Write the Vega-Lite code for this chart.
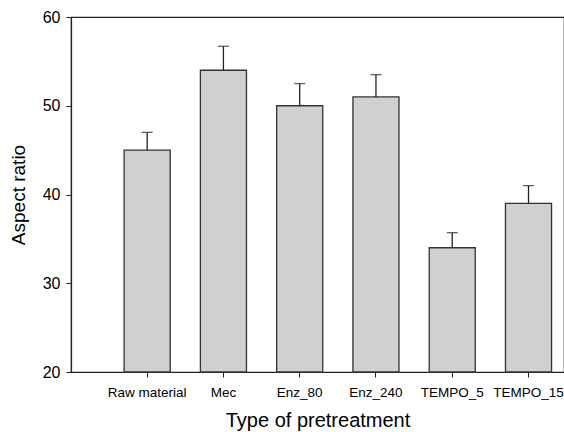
{
  "$schema": "https://vega.github.io/schema/vega-lite/v6.json",
  "width": 493,
  "height": 355,
  "autosize": {"type": "none"},
  "padding": {"left": 71, "top": 17, "right": 0, "bottom": 60},
  "background": "white",
  "config": {
    "font": "Liberation Sans",
    "view": {"stroke": "#222", "strokeWidth": 1.2}
  },
  "data": {
    "values": [
      {"type": "Raw material", "value": 45, "upper": 47.0},
      {"type": "Mec", "value": 54, "upper": 56.7},
      {"type": "Enz_80", "value": 50, "upper": 52.5},
      {"type": "Enz_240", "value": 51, "upper": 53.5},
      {"type": "TEMPO_5", "value": 34, "upper": 35.7},
      {"type": "TEMPO_15", "value": 39, "upper": 41.0}
    ]
  },
  "encoding": {
    "x": {
      "field": "type",
      "type": "nominal",
      "sort": null,
      "scale": {"type": "band", "paddingInner": 0.396, "paddingOuter": 0.43, "align": 0.81},
      "axis": {
        "title": "Type of pretreatment",
        "titleFontSize": 20,
        "titleFontWeight": "normal",
        "titleColor": "#000",
        "titlePadding": 12,
        "labelFontSize": 13.5,
        "labelColor": "#000",
        "labelAngle": 0,
        "labelPadding": 8,
        "tickSize": 5,
        "tickColor": "#222",
        "domainColor": "#222",
        "domainWidth": 1.2,
        "grid": false
      }
    }
  },
  "layer": [
    {
      "mark": {"type": "bar", "fill": "#d0d0d0", "stroke": "#333", "strokeWidth": 1.3},
      "encoding": {
        "y": {
          "field": "value",
          "type": "quantitative",
          "scale": {"domain": [20, 60], "zero": false, "nice": false},
          "axis": {
            "title": "Aspect ratio",
            "titleFontSize": 19,
            "titleFontWeight": "normal",
            "titleColor": "#000",
            "titlePadding": 14,
            "labelFontSize": 16,
            "labelColor": "#000",
            "labelPadding": 6,
            "values": [20, 30, 40, 50, 60],
            "tickSize": 5,
            "tickColor": "#222",
            "domainColor": "#222",
            "domainWidth": 1.2,
            "grid": false
          }
        },
        "y2": {"datum": 20}
      }
    },
    {
      "mark": {"type": "rule", "color": "#222", "strokeWidth": 1.3},
      "encoding": {
        "y": {"field": "value", "type": "quantitative"},
        "y2": {"field": "upper"}
      }
    },
    {
      "mark": {"type": "tick", "orient": "horizontal", "color": "#222", "size": 11, "thickness": 1.3},
      "encoding": {
        "y": {"field": "upper", "type": "quantitative"}
      }
    }
  ]
}
